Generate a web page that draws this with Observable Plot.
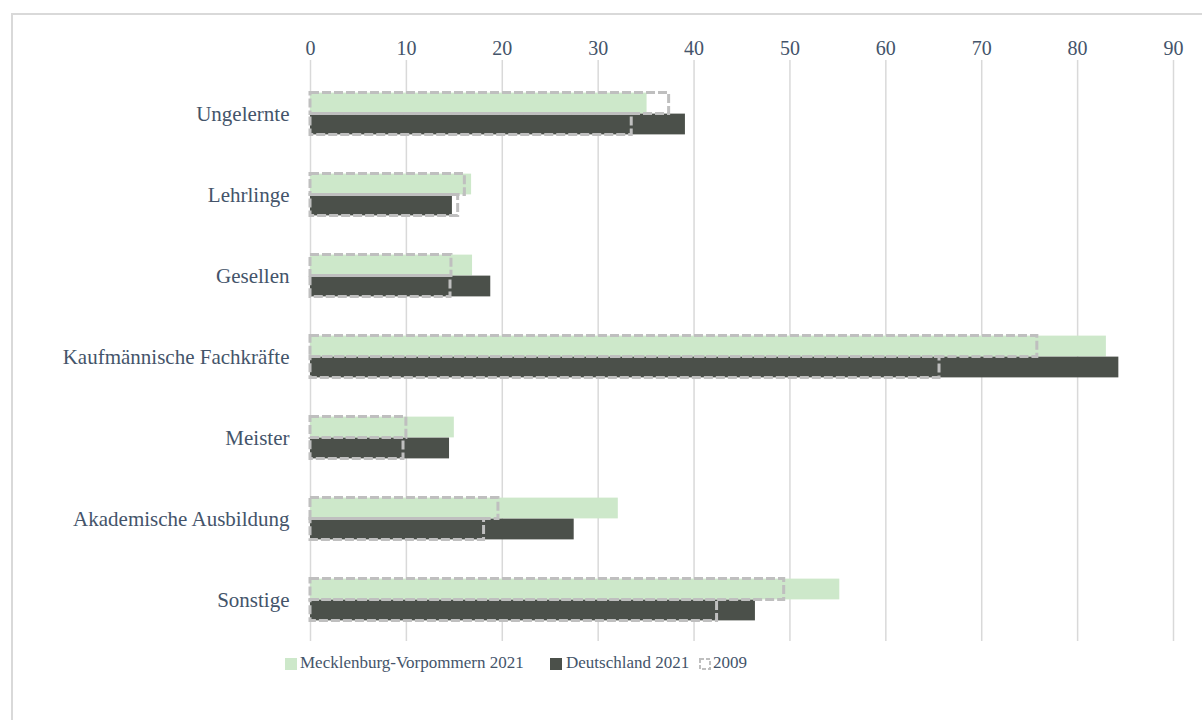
<!DOCTYPE html>
<html>
<head>
<meta charset="utf-8">
<script src="https://cdn.jsdelivr.net/npm/d3@7"></script>
<script src="https://cdn.jsdelivr.net/npm/@observablehq/plot@0.6"></script>
<style>
  html, body { margin: 0; padding: 0; background: #fff; }
  #wrap { position: relative; width: 1202px; height: 720px; overflow: hidden; font-family: "Liberation Serif", "Times New Roman", serif; color: #44546a; }
  #frame { position: absolute; left: 11px; top: 13px; width: 1300px; height: 800px; border-left: 2px solid #d9d9d9; border-top: 2px solid #d9d9d9; box-sizing: border-box; }
  #chart { position: absolute; left: 0; top: 0; }
  #legend { position: absolute; left: 0; top: 650px; width: 1202px; height: 26px; font-size: 17px; }
  .lt { position: absolute; top: 0; white-space: nowrap; line-height: 26px; }
  .sw { position: absolute; top: 8px; width: 12px; height: 12px; }
</style>
</head>
<body>
<div id="wrap">
  <div id="frame"></div>
  <div id="chart"></div>
  <div id="legend"></div>
</div>
<script>
const categories = ["Ungelernte", "Lehrlinge", "Gesellen", "Kaufmännische Fachkräfte", "Meister", "Akademische Ausbildung", "Sonstige"];
const mv2021 = [35.1, 16.8, 16.9, 83.0, 15.0, 32.1, 55.2];
const de2021 = [39.1, 14.8, 18.8, 84.3, 14.5, 27.5, 46.4];
const mv2009 = [37.4, 16.1, 14.7, 75.8, 10.0, 19.6, 49.4];
const de2009 = [33.5, 15.4, 14.6, 65.6, 9.7, 18.1, 42.4];
const xTicks = [0, 10, 20, 30, 40, 50, 60, 70, 80, 90];
const seriesNames = ["Mecklenburg-Vorpommern 2021", "Deutschland 2021", "2009"];

const colMV = "#cde8ca";
const colDE = "#4b504a";
const colOutline = "#bfbfbf";

const mvRows = categories.map((c, i) => ({cat: c, v: mv2021[i]}));
const deRows = categories.map((c, i) => ({cat: c, v: de2021[i]}));
const mvOld = categories.map((c, i) => ({cat: c, v: mv2009[i]}));
const deOld = categories.map((c, i) => ({cat: c, v: de2009[i]}));

const W = 1202, H = 645;
const plotTop = 60, plotBottom = 641;
const yStart = 72.4;
const step = (plotBottom - yStart) / categories.length;
const barH = 21;
const upTop = step / 2 - barH;
const upBot = step / 2;
const loTop = step / 2;
const loBot = step / 2 - barH;

const dash = {fill: "none", stroke: colOutline, strokeWidth: 3, strokeDasharray: "9,3"};

const chart = Plot.plot({
  width: W,
  height: H,
  marginLeft: 310,
  marginRight: 29,
  marginTop: plotTop,
  marginBottom: H - plotBottom,
  style: {fontFamily: "'Liberation Serif', 'Times New Roman', serif", color: "#44546a", background: "transparent", overflow: "visible"},
  x: {domain: [0, 90], ticks: xTicks, axis: null},
  y: {domain: categories, range: [yStart, plotBottom], padding: 0, axis: null},
  marks: [
    Plot.ruleX(xTicks, {stroke: "#d9d9d9", strokeWidth: 1.5}),
    Plot.barX(mvRows, {y: "cat", x: "v", fill: colMV, insetTop: upTop, insetBottom: upBot}),
    Plot.barX(deRows, {y: "cat", x: "v", fill: colDE, insetTop: loTop, insetBottom: loBot}),
    Plot.barX(mvOld, {y: "cat", x: "v", ...dash, insetTop: upTop, insetBottom: upBot}),
    Plot.barX(deOld, {y: "cat", x: "v", ...dash, insetTop: loTop, insetBottom: loBot}),
    Plot.axisX(xTicks, {anchor: "top", tickSize: 0, tickPadding: 6, fontSize: 20, fill: "#44546a", label: null}),
    Plot.axisY(categories, {anchor: "left", tickSize: 0, tickPadding: 21, fontSize: 21, fill: "#44546a", label: null})
  ]
});
document.getElementById("chart").appendChild(chart);

const legend = document.getElementById("legend");
const items = [
  {name: seriesNames[0], textLeft: 300, sw: `<span class="sw" style="left:285px;background:${colMV}"></span>`},
  {name: seriesNames[1], textLeft: 566, sw: `<span class="sw" style="left:550px;background:${colDE}"></span>`},
  {name: seriesNames[2], textLeft: 713, sw: `<svg class="sw" style="left:699px" width="12" height="12" viewBox="0 0 12 12"><rect x="1" y="1" width="10" height="10" fill="none" stroke="${colOutline}" stroke-width="2" stroke-dasharray="4,2"/></svg>`}
];
for (const it of items) {
  legend.insertAdjacentHTML("beforeend", it.sw);
  const d = document.createElement("div");
  d.className = "lt";
  d.style.left = it.textLeft + "px";
  d.textContent = it.name;
  legend.appendChild(d);
}
</script>
</body>
</html>
